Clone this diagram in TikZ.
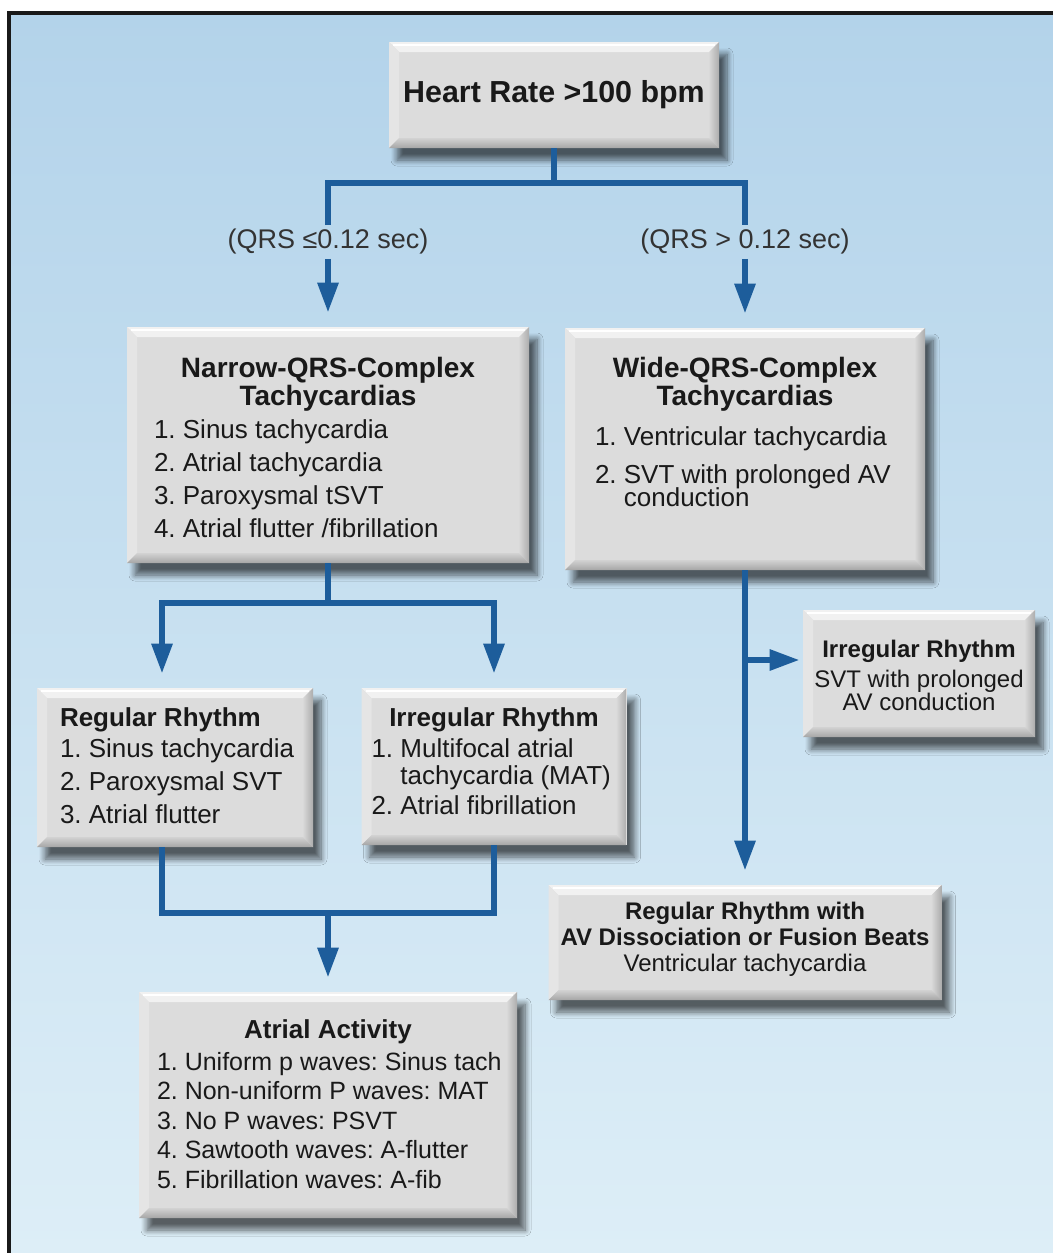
\documentclass[tikz,border=0pt]{standalone}
\usepackage{fontspec}
\setmainfont{Liberation Sans}
\frenchspacing
\usetikzlibrary{arrows.meta, positioning, calc, shadows.blur}
\definecolor{wireblue}{HTML}{1D5D9B}
\definecolor{panelface}{HTML}{DCDCDC}
\definecolor{bgtop}{HTML}{B3D3EA}
\definecolor{bgbottom}{HTML}{DDEEF7}
\definecolor{labeltext}{HTML}{333333}
\newcommand{\bigtitle}{\fontsize{15.2}{18}\selectfont\bfseries}
\newcommand{\headfont}{\fontsize{14}{14}\selectfont\bfseries}
\newcommand{\subhead}{\fontsize{13}{15}\selectfont\bfseries}
\newcommand{\itemfont}{\fontsize{13}{16.5}\selectfont}
\newcommand{\panelbody}[3]{\parbox[c][#2][t]{#1}{#3}}
\newcommand{\bevw}{5pt}

\begin{document}
\begin{tikzpicture}[
    x=0.5pt, y=-0.5pt,
    panel/.style={
        rectangle, fill=panelface, inner sep=0pt, text=black!90,
        blur shadow={shadow xshift=4pt, shadow yshift=-6pt, shadow blur steps=8,
                     shadow blur radius=3pt, shadow opacity=60},
        path picture={
            \path (path picture bounding box.north west) coordinate (bnw)
                  (path picture bounding box.north east) coordinate (bne)
                  (path picture bounding box.south west) coordinate (bsw)
                  (path picture bounding box.south east) coordinate (bse);
            \fill[white!60!panelface] (bnw) -- (bne) -- ([shift={(-\bevw,-\bevw)}]bne)
                  -- ([shift={(\bevw,-\bevw)}]bnw) -- cycle;
            \fill[white!25!panelface] (bnw) -- ([shift={(\bevw,-\bevw)}]bnw)
                  -- ([shift={(\bevw,\bevw)}]bsw) -- (bsw) -- cycle;
            \shade[left color=gray!30, right color=gray!65] (bne) -- (bse)
                  -- ([shift={(-\bevw,\bevw)}]bse) -- ([shift={(-\bevw,-\bevw)}]bne) -- cycle;
            \shade[top color=gray!35, bottom color=gray!70] (bsw) -- (bse)
                  -- ([shift={(-\bevw,\bevw)}]bse) -- ([shift={(\bevw,\bevw)}]bsw) -- cycle;
            \draw[white, line width=1pt] ([shift={(2pt,-1.5pt)}]bnw) -- ([shift={(-2pt,-1.5pt)}]bne);
        }
    },
    qrslabel/.style={font=\fontsize{13.5}{16}\selectfont, text=labeltext, inner sep=2pt},
    wire/.style={draw=wireblue, line width=3pt},
    flow/.style={wire, -{Triangle[length=15pt,width=10pt]}, shorten >=7pt}
]
\useasboundingbox (0,0) rectangle (1053,1253);

% --- Backdrop ---
\fill[white] (0,0) rectangle (1053,1253);
\shade[top color=bgtop, bottom color=bgbottom] (9,13) rectangle (1053,1253);
\draw[black!90, line width=2pt] (9,1253) -- (9,13) -- (1053,13);

% --- Entry ---
\node[panel, minimum width=165pt, minimum height=53pt, font=\bigtitle]
      (heart) at (554,95) {Heart Rate >100 bpm};

% --- QRS width ---
\node[qrslabel] (qrsnarrow) at (328,242) {(QRS ≤0.12 sec)};
\node[qrslabel] (qrswide) at (745,242) {(QRS > 0.12 sec)};

% --- Complex type ---
\node[panel] (narrow) at (328,445) {\panelbody{201pt}{118pt}{%
  \vspace*{15pt}{\centering\headfont Narrow-QRS-Complex\\Tachycardias\par}
  {\itemfont\leftskip=13.5pt 1. Sinus tachycardia\\2. Atrial tachycardia\\
   3. Paroxysmal tSVT\\4. Atrial flutter /fibrillation\par}}};
\node[panel] (wide) at (745,449) {\panelbody{180pt}{121pt}{%
  \vspace*{14.5pt}{\centering\headfont Wide-QRS-Complex\\Tachycardias\par}\vspace{3.5pt}
  {\itemfont\leftskip=15pt 1. Ventricular tachycardia\\[2.5pt]2. SVT with prolonged AV\\[-5pt]
   \hphantom{2. }conduction\par}}};

% --- Narrow rhythm ---
\node[panel] (regular) at (175,767.5) {\panelbody{138pt}{79.5pt}{%
  \vspace*{10pt}{\itemfont\leftskip=11.5pt {\subhead Regular Rhythm}\\[-1pt]
   1. Sinus tachycardia\\2. Paroxysmal SVT\\3. Atrial flutter\par}}};
\node[panel] (irregular) at (494,766.5) {\panelbody{132.5pt}{78.5pt}{%
  \vspace*{10pt}{\centering\subhead Irregular Rhythm\par}\vspace{-1pt}
  {\itemfont\leftskip=5pt 1. Multifocal atrial\\[-3pt]\hphantom{1. }tachycardia (MAT)\\[-1.5pt]
   2. Atrial fibrillation\par}}};
\node[panel] (atrial) at (328,1105) {\panelbody{189pt}{113pt}{%
  \vspace*{14pt}{\centering\subhead Atrial Activity\par}\vspace{1pt}
  {\fontsize{12.5}{14.75}\selectfont\leftskip=9pt 1. Uniform p waves: Sinus tach\\
   2. Non-uniform P waves: MAT\\3. No P waves: PSVT\\4. Sawtooth waves: A-flutter\\
   5. Fibrillation waves: A-fib\par}}};

% --- Wide rhythm ---
\node[panel] (irrside) at (919,673.5) {\panelbody{116pt}{63.5pt}{%
  \vspace*{15pt}{\centering\fontsize{12}{13.5}\selectfont\textbf{Irregular Rhythm}\\[1.5pt]
   SVT with prolonged\\[-2pt]AV conduction\par}}};
\node[panel] (avbox) at (745,942.5) {\panelbody{196.5pt}{57.5pt}{%
  \vspace*{8.5pt}{\centering\fontsize{12}{13}\selectfont\textbf{Regular Rhythm with}\\
   \textbf{AV Dissociation or Fusion Beats}\\Ventricular tachycardia\par}}};

% --- Connectors ---
\coordinate (fork) at (554,183);
\coordinate (laneL) at (162,603);
\coordinate (merge) at (328,913);
\coordinate (branch) at (745,660);
\draw[wire] (heart.south) -- (fork);
\draw[wire] (qrsnarrow.north) |- (fork) -| (qrswide.north);
\draw[flow] (qrsnarrow) -- (narrow);
\draw[flow] (qrswide) -- (wide);
\draw[wire] (narrow.south) -- (narrow.south |- laneL);
\draw[flow] (narrow.south |- laneL) -| (laneL |- regular.north);
\draw[flow] (narrow.south |- laneL) -| (irregular.north);
\draw[wire] (laneL |- regular.south) |- (merge) -| (irregular.south);
\draw[flow] (merge) -- (atrial.north);
\draw[flow] (wide.south) -- (avbox.north);
\draw[flow, shorten >=1.5pt] (branch) -- (branch -| irrside.west);
\end{tikzpicture}
\end{document}
